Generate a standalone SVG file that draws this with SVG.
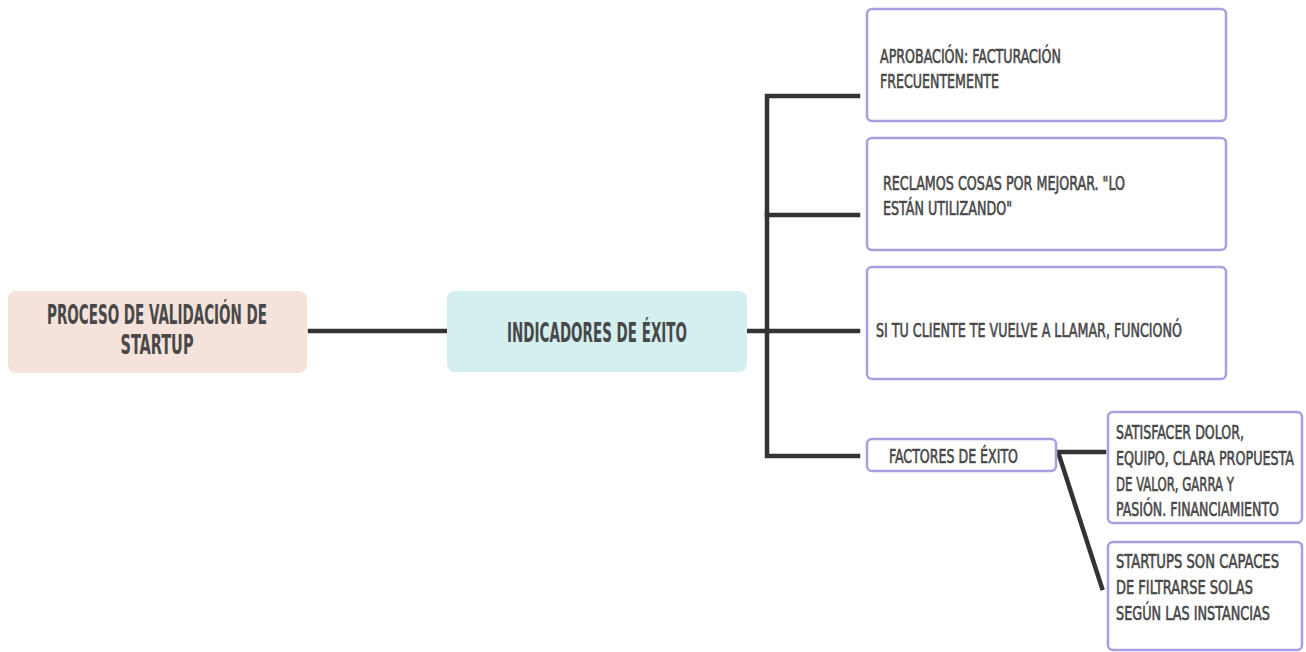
<svg xmlns="http://www.w3.org/2000/svg" width="1306" height="652" viewBox="0 0 1306 652">
  <style>
    .main { font-family: "DejaVu Sans Condensed", "DejaVu Sans", sans-serif; font-weight: bold; font-size: 17px; fill: #484848; }
    .leaf { font-family: "DejaVu Sans Condensed", "DejaVu Sans", sans-serif; font-size: 13px; fill: #474747; stroke: #474747; stroke-width: 0.4; }
    .box { fill: #ffffff; stroke: #a89ee0; stroke-width: 2.5; }
    .wire { fill: none; stroke: #333333; stroke-width: 4.5; stroke-linecap: square; stroke-linejoin: miter; }
  </style>
  <rect x="0" y="0" width="1306" height="652" fill="#ffffff"/>

  <g id="connectors">
    <line class="wire" x1="310" y1="331" x2="446" y2="331"/>
    <line class="wire" x1="748" y1="331" x2="767" y2="331"/>
    <path class="wire" d="M858 96 H767 V456 H858"/>
    <line class="wire" x1="767" y1="215" x2="858" y2="215"/>
    <line class="wire" x1="767" y1="331" x2="858" y2="331"/>
    <line class="wire" x1="1058" y1="452" x2="1104" y2="452"/>
    <line class="wire" x1="1059" y1="455" x2="1102" y2="588"/>
  </g>

  <g id="node-proceso">
    <rect x="8" y="291" width="299" height="82" rx="8" fill="#f4e2db"/>
    <text class="main" transform="translate(157 324) scale(1 1.53)" text-anchor="middle" textLength="220" lengthAdjust="spacingAndGlyphs">PROCESO DE VALIDACIÓN DE</text>
    <text class="main" transform="translate(157 354) scale(1 1.53)" text-anchor="middle" textLength="73" lengthAdjust="spacingAndGlyphs">STARTUP</text>
  </g>

  <g id="node-indicadores">
    <rect x="447" y="291" width="300" height="81" rx="8" fill="#d4eff0"/>
    <text class="main" transform="translate(597 342) scale(1 1.53)" text-anchor="middle" textLength="180" lengthAdjust="spacingAndGlyphs">INDICADORES DE ÉXITO</text>
  </g>

  <g id="node-aprobacion">
    <rect class="box" x="867" y="9" width="359" height="112" rx="5"/>
    <text class="leaf" transform="translate(880 63) scale(1 1.48)" textLength="181" lengthAdjust="spacingAndGlyphs">APROBACIÓN: FACTURACIÓN</text>
    <text class="leaf" transform="translate(880 88) scale(1 1.48)" textLength="119" lengthAdjust="spacingAndGlyphs">FRECUENTEMENTE</text>
  </g>

  <g id="node-reclamos">
    <rect class="box" x="867" y="138" width="359" height="112" rx="5"/>
    <text class="leaf" transform="translate(883 190) scale(1 1.48)" textLength="242" lengthAdjust="spacingAndGlyphs">RECLAMOS COSAS POR MEJORAR. "LO</text>
    <text class="leaf" transform="translate(883 215) scale(1 1.48)" textLength="129" lengthAdjust="spacingAndGlyphs">ESTÁN UTILIZANDO"</text>
  </g>

  <g id="node-cliente">
    <rect class="box" x="867" y="267" width="359" height="112" rx="5"/>
    <text class="leaf" transform="translate(876 337) scale(1 1.48)" textLength="306" lengthAdjust="spacingAndGlyphs">SI TU CLIENTE TE VUELVE A LLAMAR, FUNCIONÓ</text>
  </g>

  <g id="node-factores">
    <rect class="box" x="867" y="439" width="189" height="32" rx="5"/>
    <text class="leaf" transform="translate(889 463) scale(1 1.48)" textLength="129" lengthAdjust="spacingAndGlyphs">FACTORES DE ÉXITO</text>
  </g>

  <g id="node-satisfacer">
    <rect class="box" x="1108" y="412" width="194" height="111" rx="5"/>
    <text class="leaf" transform="translate(1116 439) scale(1 1.48)" textLength="128" lengthAdjust="spacingAndGlyphs">SATISFACER DOLOR,</text>
    <text class="leaf" transform="translate(1116 465) scale(1 1.48)" textLength="178" lengthAdjust="spacingAndGlyphs">EQUIPO, CLARA PROPUESTA</text>
    <text class="leaf" transform="translate(1116 491) scale(1 1.48)" textLength="118" lengthAdjust="spacingAndGlyphs">DE VALOR, GARRA Y</text>
    <text class="leaf" transform="translate(1116 516) scale(1 1.48)" textLength="163" lengthAdjust="spacingAndGlyphs">PASIÓN. FINANCIAMIENTO</text>
  </g>

  <g id="node-startups">
    <rect class="box" x="1108" y="542" width="194" height="108" rx="5"/>
    <text class="leaf" transform="translate(1116 568) scale(1 1.48)" textLength="163" lengthAdjust="spacingAndGlyphs">STARTUPS SON CAPACES</text>
    <text class="leaf" transform="translate(1116 594) scale(1 1.48)" textLength="137" lengthAdjust="spacingAndGlyphs">DE FILTRARSE SOLAS</text>
    <text class="leaf" transform="translate(1116 620) scale(1 1.48)" textLength="154" lengthAdjust="spacingAndGlyphs">SEGÚN LAS INSTANCIAS</text>
  </g>
</svg>
